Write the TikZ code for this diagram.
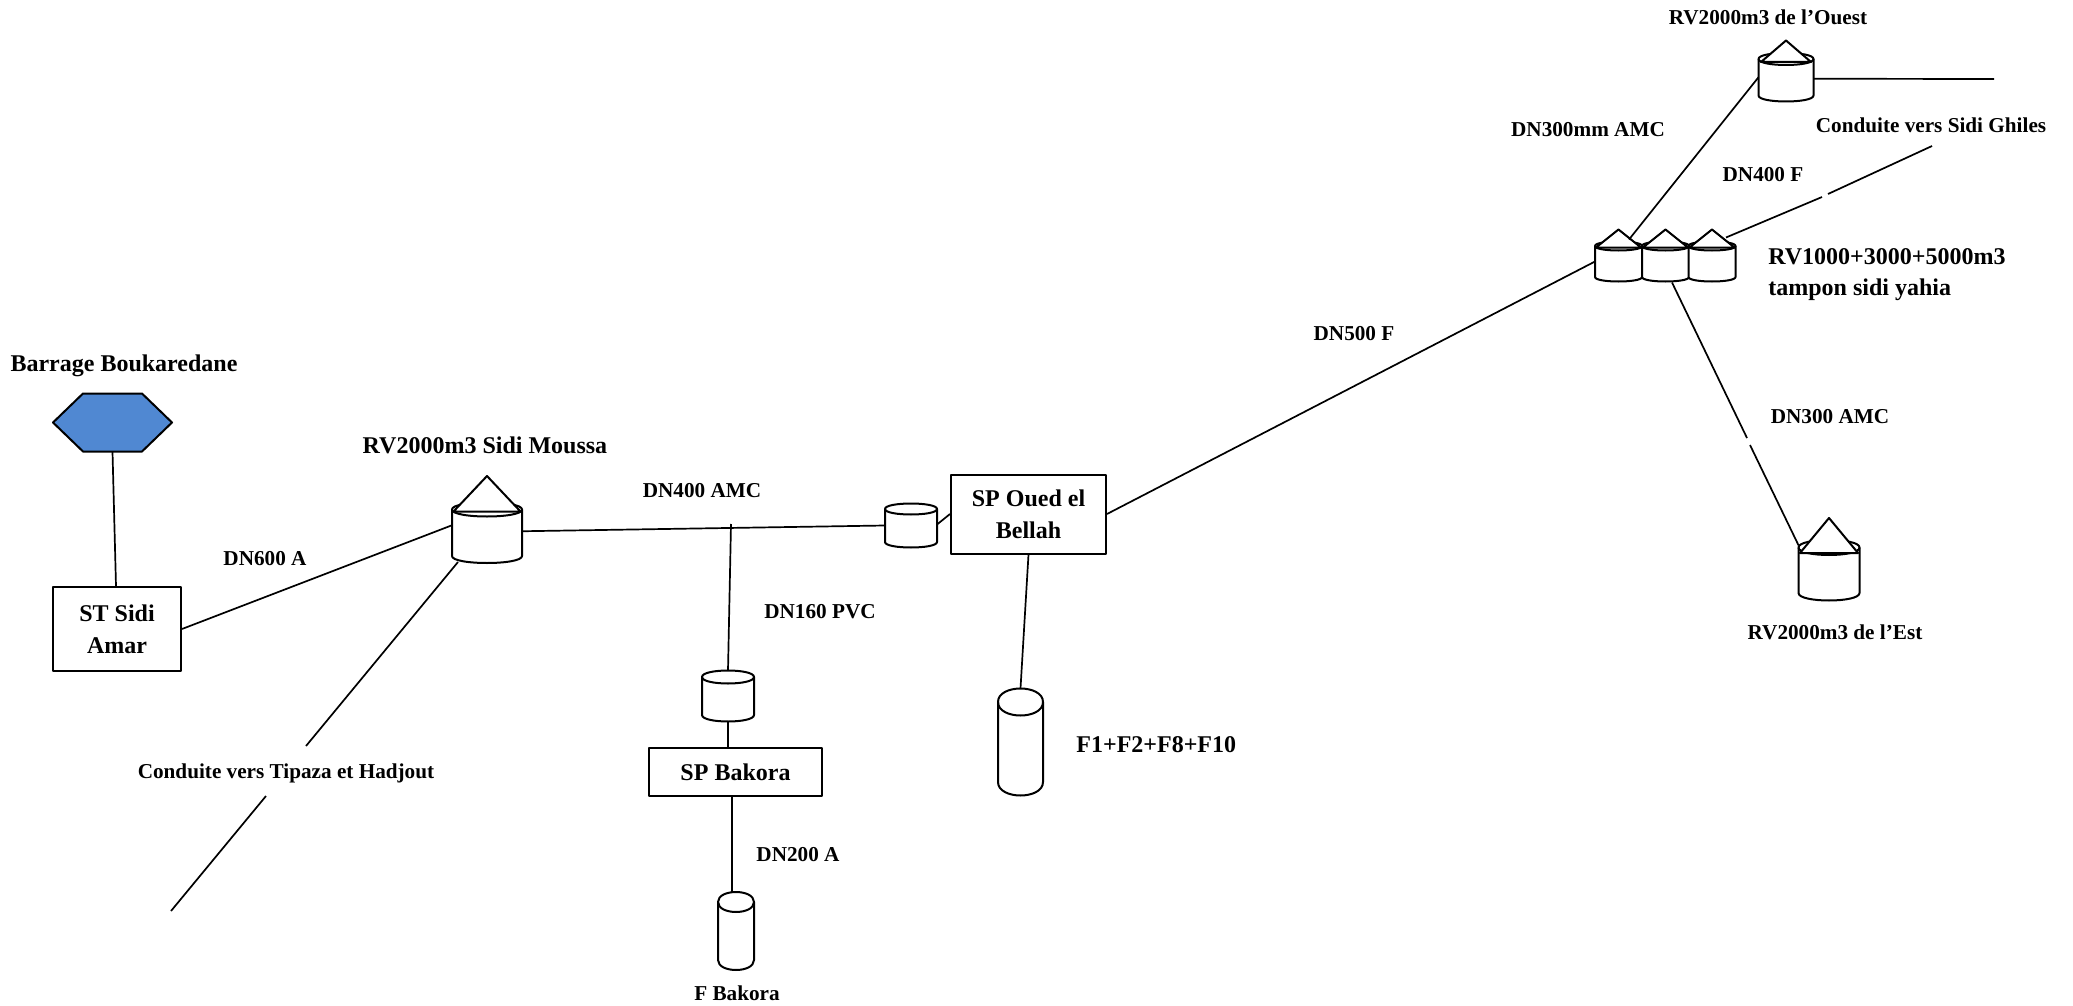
\documentclass[tikz,border=0pt]{standalone}
\usepackage{fontspec}
\setmainfont{Liberation Serif}
\usetikzlibrary{calc}
\definecolor{damblue}{HTML}{5088D2}
\tikzset{
  shapeline/.style={draw=black,line width=1pt,line join=round},
  pipe/.style={draw=black,line width=0.85pt},
  lbl/.style={anchor=base,inner sep=0pt,font=\bfseries\fontsize{10.6}{13}\selectfont},
  lblbig/.style={anchor=base,inner sep=0pt,font=\bfseries\fontsize{12}{16}\selectfont},
  stationbox/.style={shapeline,fill=white,inner sep=0pt,align=center,font=\bfseries\fontsize{12}{16}\selectfont},
  port/.style={inner sep=0pt,outer sep=0pt},
}
% name, cx, ytop, ybot, half width, ry
\newcommand\plaintank[6]{%
  \node[port,minimum width={#5*1pt},minimum height={(#4-#3+2*#6)*0.5pt}] (#1) at (#2,{(#3+#4)/2}) {};
  \draw[shapeline,fill=white] ({#2-#5},#3) -- ({#2-#5},#4)
    .. controls ({#2-#5},{#4+#6*4/3}) and ({#2+#5},{#4+#6*4/3}) .. ({#2+#5},#4)
    -- ({#2+#5},#3)
    .. controls ({#2+#5},{#3-#6*4/3}) and ({#2-#5},{#3-#6*4/3}) .. ({#2-#5},#3) -- cycle;
  \draw[shapeline] ({#2-#5},#3) .. controls ({#2-#5},{#3+#6*4/3}) and ({#2+#5},{#3+#6*4/3}) .. ({#2+#5},#3);
}
% name, cx, ytop, ybot, half width, ry, apex y, base y, base half width
\newcommand\rooftank[9]{%
  \plaintank{#1}{#2}{#3}{#4}{#5}{#6}
  \draw[shapeline,fill=white] ({#2-#9},#8) -- (#2,#7) -- ({#2+#9},#8) -- cycle;
}
\begin{document}
\begin{tikzpicture}[x=0.5pt,y=-0.5pt]
\useasboundingbox[fill=white] (0,0) rectangle (2073,1006);

% dam
\node[port,minimum width=59.5pt,minimum height=29pt] (hex) at (112.5,422.5) {};
\draw[shapeline,fill=damblue] (53,422.5) -- (83,393.5) -- (142,393.5) -- (172,422.5) -- (142,451.5) -- (83,451.5) -- cycle;

% stations
\node[stationbox,minimum width=64pt,minimum height=42pt] (st) at (117,629) {ST Sidi\\Amar};
\node[stationbox,minimum width=77.5pt,minimum height=39.5pt] (spo) at (1028.5,514) {SP Oued el\\Bellah};
\node[stationbox,minimum width=86.5pt,minimum height=24pt] (spb) at (735.5,772) {SP Bakora};

% tanks
\rooftank{rvm}{487}{509.5}{556}{35}{7}{476}{511.5}{33.5}
\plaintank{tka}{911}{509}{542}{26}{5.5}
\plaintank{tkb}{728}{677}{715}{26}{6.5}
\plaintank{tkc}{736}{902}{960}{18}{10}
\plaintank{tkd}{1020.5}{702}{782}{22.5}{13.5}
\rooftank{ouest}{1786}{59}{95.5}{27.5}{6}{40.5}{62}{25}
\rooftank{est}{1829}{547.5}{593}{30.5}{7.5}{518}{553}{29}
\rooftank{tta}{1618.5}{246}{277}{23.5}{4.5}{229.5}{247.5}{22.5}
\rooftank{ttb}{1665.5}{246}{277}{23.5}{4.5}{229.5}{247.5}{22.5}
\rooftank{ttc}{1712}{246}{277}{23.5}{4.5}{229.5}{247.5}{22.5}

% free ends
\coordinate (tipgapa) at (306,746);
\coordinate (tipgapb) at (266,796);
\coordinate (tipend) at (171,911);
\coordinate (ouestend) at (1994,79);
\coordinate (ghigapa) at (1822,197);
\coordinate (ghigapb) at (1828,194);
\coordinate (ghiend) at (1932,146);
\coordinate (estgapa) at (1747,438);
\coordinate (estgapb) at (1750,445);
\coordinate (junction) at (731,524);

% connectors
\draw[pipe] (hex.south) -- ([shift={(-1,0)}]st.north);
\draw[pipe] (st.east) -- ([shift={(0,-7.5)}]rvm.west);
\draw[pipe] ([shift={(-29,-1)}]rvm.south) -- (tipgapa);
\draw[pipe] (tipgapb) -- (tipend);
\draw[pipe] ([shift={(0,-1.5)}]rvm.east) -- (tka.west);
\draw[pipe] (junction) -- (tkb.north);
\draw[pipe] (tkb.south) -- ([shift={(-7.5,0)}]spb.north);
\draw[pipe] ([shift={(-3.5,0)}]spb.south) -- ([shift={(-4,0)}]tkc.north);
\draw[pipe] ([shift={(0,-1)}]tka.east) -- (spo.west);
\draw[pipe] (spo.east) -- (tta.west);
\draw[pipe] (spo.south) -- (tkd.north);
\draw[pipe] ([shift={(10.5,-2)}]tta.north) -- (ouest.west);
\draw[pipe] ([shift={(0.5,1.5)}]ouest.east) -- (ouestend);
\draw[pipe] ([shift={(14,-4)}]ttc.north) -- (ghigapa);
\draw[pipe] (ghigapb) -- (ghiend);
\draw[pipe] ([shift={(6.5,1)}]ttb.south) -- (estgapa);
\draw[pipe] (estgapb) -- ([shift={(0,-25)}]est.west);

% labels
\node[lblbig] (lbarrage) at (124,371) {Barrage Boukaredane};
\node[lbl] (ldnsix) at (265,565) {DN600 A};
\node[lblbig] (lrvm) at (485,453) {RV2000m3 Sidi Moussa};
\node[lbl] (ldnquatre) at (702,497) {DN400 AMC};
\node[lbl] (ldncent) at (820,618) {DN160 PVC};
\node[lbl] (ltipaza) at (286,778) {Conduite vers Tipaza et Hadjout};
\node[lbl] (ldndeux) at (798,861) {DN200 A};
\node[lbl] (lfbak) at (737,1000) {F Bakora};
\node[lblbig,anchor=base west] (lforages) at (1076,752) {F1+F2+F8+F10};
\node[lbl] (ldncinq) at (1354,340) {DN500 F};
\node[lbl] (ldntroismm) at (1588,137) {DN300mm AMC};
\node[lbl] (lghisect) at (1763,182) {DN400 F};
\node[lbl] (louest) at (1768,25) {RV2000m3 de l’Ouest};
\node[lbl] (lghiles) at (1931,133) {Conduite vers Sidi Ghiles};
\node[lblbig,anchor=base west] (ltampon) at (1768,264) {RV1000+3000+5000m3};
\node[lblbig,anchor=base west] (ltamponb) at (1768,295) {tampon sidi yahia};
\node[lbl] (ldntrois) at (1830,423) {DN300 AMC};
\node[lbl] (lest) at (1835,639) {RV2000m3 de l’Est};
\end{tikzpicture}
\end{document}
